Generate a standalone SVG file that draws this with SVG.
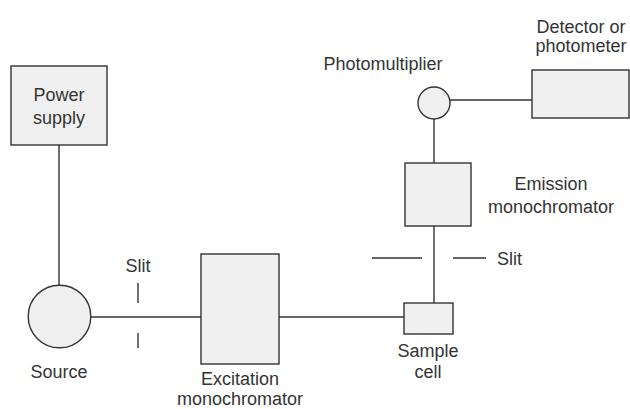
<svg xmlns="http://www.w3.org/2000/svg" width="630" height="409" viewBox="0 0 630 409">
<style>
.box{fill:#f0f0f0;stroke:#333;stroke-width:1.4}
.ln{stroke:#333;stroke-width:1.4;fill:none}
text{font-family:"Liberation Sans",Arial,sans-serif;font-size:18px;fill:#333;text-anchor:middle}
</style>
<rect width="630" height="409" fill="#fff"/>
<g id="connectors">
<line class="ln" x1="59" y1="145" x2="59" y2="285"/>
<line class="ln" x1="91" y1="317" x2="201" y2="317"/>
<line class="ln" x1="279" y1="317" x2="404" y2="317"/>
<line class="ln" x1="434" y1="226" x2="434" y2="303"/>
<line class="ln" x1="434" y1="119" x2="434" y2="163"/>
<line class="ln" x1="450" y1="100" x2="532" y2="100"/>
</g>
<g id="power-supply">
<rect class="box" x="11" y="66" width="96" height="79"/>
<text x="59" y="101">Power</text>
<text x="59" y="124">supply</text>
</g>
<g id="source">
<circle class="box" cx="59.5" cy="316.5" r="31.3"/>
<text x="59" y="378">Source</text>
</g>
<g id="slit1">
<line class="ln" x1="138" y1="283" x2="138" y2="303"/>
<line class="ln" x1="138" y1="333" x2="138" y2="348"/>
<text x="138" y="272">Slit</text>
</g>
<g id="excitation">
<rect class="box" x="201" y="254" width="78" height="110"/>
<text x="240" y="385">Excitation</text>
<text x="240" y="405">monochromator</text>
</g>
<g id="sample-cell">
<rect class="box" x="404" y="303" width="49" height="31"/>
<text x="428" y="357">Sample</text>
<text x="428" y="378">cell</text>
</g>
<g id="slit2">
<line class="ln" x1="372" y1="258" x2="422" y2="258"/>
<line class="ln" x1="453" y1="258" x2="486" y2="258"/>
<text x="497" y="265" style="text-anchor:start">Slit</text>
</g>
<g id="emission">
<rect class="box" x="405" y="163" width="66" height="63"/>
<text x="551" y="190">Emission</text>
<text x="551" y="213">monochromator</text>
</g>
<g id="photomultiplier">
<circle class="box" cx="434" cy="103" r="16"/>
<text x="383" y="70">Photomultiplier</text>
</g>
<g id="detector">
<rect class="box" x="532" y="70" width="97" height="48"/>
<text x="581" y="33">Detector or</text>
<text x="581" y="52">photometer</text>
</g>
</svg>
